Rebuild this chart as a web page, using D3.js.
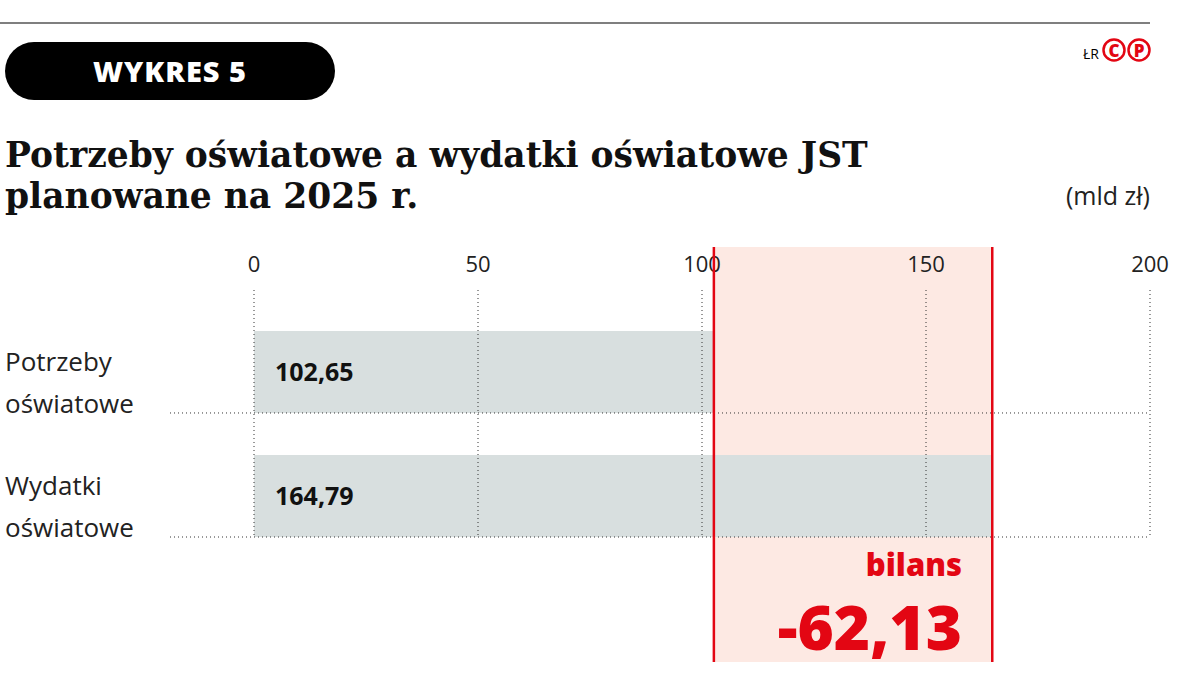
<!DOCTYPE html>
<html><head><meta charset="utf-8">
<script src="https://cdn.jsdelivr.net/npm/d3@7"></script>
<style>body{margin:0;background:#fff}</style></head>
<body><svg id="c" width="1186" height="689"></svg>
<script>
const categories = [["Potrzeby","oświatowe"],["Wydatki","oświatowe"]];
const values = [102.65, 164.79];
const labels = ["102,65","164,79"];
const ticks = [0,50,100,150,200];
const balance = "-62,13";

const svg = d3.select("#c");
const x = d3.scaleLinear().domain([0,200]).range([254,1150]);
const y = d3.scaleBand().domain([0,1]).range([331,537]).paddingInner(0.339);
const red = "#e30613";
const sans = "Open Sans, Noto Sans, sans-serif";

svg.append("line").attr("x1",0).attr("x2",1150).attr("y1",23).attr("y2",23).attr("stroke","#000").attr("stroke-width",1.2);
svg.append("rect").attr("x",5).attr("y",42).attr("width",330).attr("height",58).attr("rx",29).attr("fill","#000");
svg.append("text").attr("x",170).attr("y",82).attr("text-anchor","middle").attr("fill","#fff")
  .attr("font-family",sans).attr("font-weight",800).attr("font-size",29).attr("letter-spacing",1).text("WYKRES 5");
svg.append("text").attr("x",1099).attr("y",59).attr("text-anchor","end").attr("font-family",sans).attr("font-size",14).text("ŁR");
[1114,1139].forEach((cx,i)=>{
  svg.append("circle").attr("cx",cx).attr("cy",50).attr("r",10.5).attr("fill","none").attr("stroke",red).attr("stroke-width",2.5);
  svg.append("text").attr("x",cx).attr("y",56.5).attr("text-anchor","middle").attr("fill",red).attr("font-family",sans).attr("font-weight",800).attr("font-size",17).text(i?"P":"C");
});
const t = svg.append("text").attr("font-family","DejaVu Serif, serif").attr("font-weight","bold").attr("font-size",34.5).attr("fill","#111");
t.append("tspan").attr("x",5).attr("y",167).text("Potrzeby oświatowe a wydatki oświatowe JST");
t.append("tspan").attr("x",5).attr("y",208).text("planowane na 2025 r.");
svg.append("text").attr("x",1150).attr("y",205).attr("text-anchor","end").attr("font-family",sans).attr("font-size",25).attr("fill","#222").text("(mld zł)");

svg.append("rect").attr("x",x(values[0])).attr("y",247).attr("width",x(values[1])-x(values[0])).attr("height",415).attr("fill","#fde9e3");

svg.selectAll(".bar").data(values).join("rect").attr("x",x(0)).attr("y",(d,i)=>y(i)).attr("width",d=>x(d)-x(0)).attr("height",y.bandwidth()).attr("fill","#d8dfdf");

svg.selectAll(".g").data(ticks).join("line").attr("x1",d=>x(d)).attr("x2",d=>x(d)).attr("y1",290).attr("y2",537)
  .attr("stroke","#333").attr("stroke-width",1).attr("stroke-dasharray","1,3");
svg.selectAll(".tk").data(ticks).join("text").attr("x",d=>x(d)).attr("y",272).attr("text-anchor","middle")
  .attr("font-family",sans).attr("font-size",22).attr("fill","#222").text(d=>d);
[0,1].forEach(i=>{
  const yb=y(i)+y.bandwidth();
  svg.append("line").attr("x1",170).attr("x2",1150).attr("y1",yb).attr("y2",yb).attr("stroke","#333").attr("stroke-dasharray","1,3");
  const tt=svg.append("text").attr("font-family",sans).attr("font-size",26).attr("fill","#222");
  tt.append("tspan").attr("x",5).attr("y",y(i)+40).text(categories[i][0]);
  tt.append("tspan").attr("x",5).attr("y",y(i)+82).text(categories[i][1]);
  svg.append("text").attr("x",275).attr("y",y(i)+y.bandwidth()/2+9).attr("font-family",sans).attr("font-weight",700).attr("font-size",25).attr("fill","#111").text(labels[i]);
});

values.forEach(v=>svg.append("line").attr("x1",x(v)).attr("x2",x(v)).attr("y1",247).attr("y2",662).attr("stroke",red).attr("stroke-width",2.5));
svg.append("text").attr("x",962).attr("y",576).attr("text-anchor","end").attr("fill",red).attr("font-family",sans).attr("font-weight",800).attr("font-size",31).text("bilans");
svg.append("text").attr("x",962).attr("y",650).attr("text-anchor","end").attr("fill",red).attr("font-family",sans).attr("font-weight",800).attr("font-size",62).text(balance);
</script></body></html>
